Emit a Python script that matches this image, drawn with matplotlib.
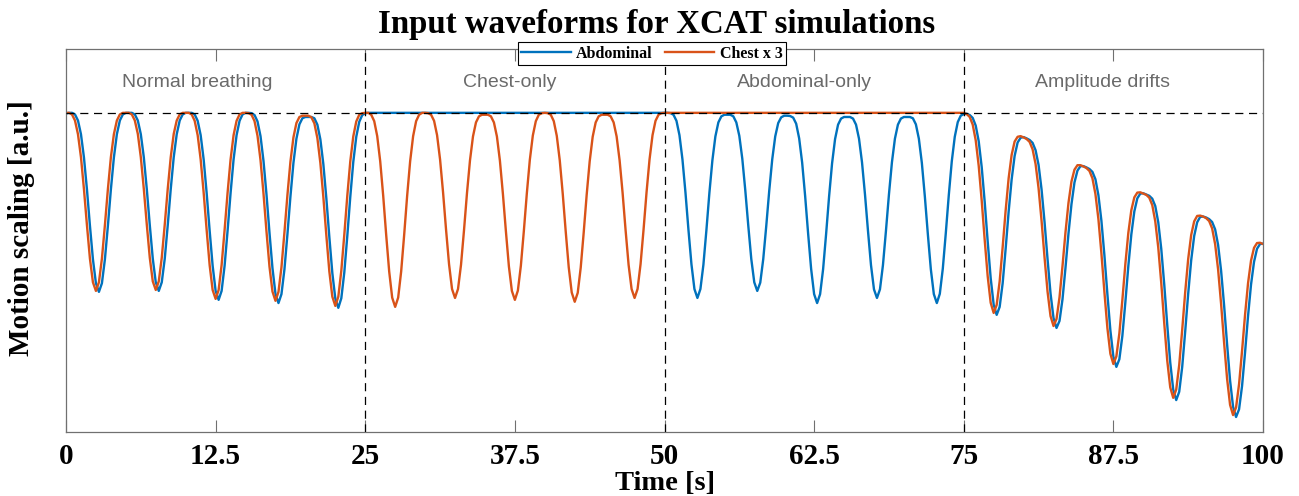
import numpy as np
import matplotlib.pyplot as plt

# temps d'echantillonnage [s]
t = np.arange(0, 100.25, 0.25)

# Abdominal (bleu) - valeurs lues sur la figure, pas de 0.25 s
abdominal = [
    0.998, 1.000, 1.000, 0.995, 0.976, 0.933, 0.860, 0.760, 0.646, 0.541, 0.466, 0.439, 0.466, 0.541, 0.646, 0.760, 0.860, 0.933, 0.976, 0.995,
    1.000, 1.000, 1.000, 0.995, 0.976, 0.933, 0.861, 0.761, 0.648, 0.543, 0.469, 0.442, 0.469, 0.543, 0.648, 0.761, 0.861, 0.933, 0.976, 0.995,
    1.000, 1.000, 1.000, 0.995, 0.975, 0.930, 0.854, 0.749, 0.631, 0.521, 0.442, 0.414, 0.442, 0.521, 0.631, 0.749, 0.854, 0.930, 0.975, 0.995,
    1.000, 1.000, 0.999, 0.993, 0.973, 0.927, 0.849, 0.744, 0.624, 0.513, 0.433, 0.404, 0.432, 0.510, 0.620, 0.738, 0.843, 0.919, 0.964, 0.983,
    0.987, 0.987, 0.987, 0.983, 0.963, 0.917, 0.839, 0.732, 0.611, 0.498, 0.418, 0.389, 0.419, 0.500, 0.614, 0.737, 0.846, 0.925, 0.972, 0.993,
    0.999, 1.000, 1.000, 1.000, 1.000, 1.000, 1.000, 1.000, 1.000, 1.000, 1.000, 1.000, 1.000, 1.000, 1.000, 1.000, 1.000, 1.000, 1.000, 1.000,
    1.000, 1.000, 1.000, 1.000, 1.000, 1.000, 1.000, 1.000, 1.000, 1.000, 1.000, 1.000, 1.000, 1.000, 1.000, 1.000, 1.000, 1.000, 1.000, 1.000,
    1.000, 1.000, 1.000, 1.000, 1.000, 1.000, 1.000, 1.000, 1.000, 1.000, 1.000, 1.000, 1.000, 1.000, 1.000, 1.000, 1.000, 1.000, 1.000, 1.000,
    1.000, 1.000, 1.000, 1.000, 1.000, 1.000, 1.000, 1.000, 1.000, 1.000, 1.000, 1.000, 1.000, 1.000, 1.000, 1.000, 1.000, 1.000, 1.000, 1.000,
    1.000, 1.000, 1.000, 1.000, 1.000, 1.000, 1.000, 1.000, 1.000, 1.000, 1.000, 1.000, 1.000, 1.000, 1.000, 1.000, 1.000, 1.000, 1.000, 1.000,
    1.000, 1.000, 0.999, 0.994, 0.975, 0.930, 0.854, 0.751, 0.634, 0.526, 0.448, 0.420, 0.448, 0.524, 0.632, 0.749, 0.851, 0.926, 0.970, 0.989,
    0.994, 0.994, 0.994, 0.989, 0.970, 0.928, 0.856, 0.757, 0.646, 0.542, 0.469, 0.442, 0.468, 0.542, 0.645, 0.756, 0.854, 0.926, 0.968, 0.986,
    0.991, 0.991, 0.990, 0.985, 0.966, 0.920, 0.844, 0.739, 0.621, 0.511, 0.432, 0.404, 0.432, 0.510, 0.620, 0.738, 0.842, 0.918, 0.963, 0.982,
    0.987, 0.987, 0.987, 0.982, 0.963, 0.919, 0.845, 0.744, 0.630, 0.523, 0.447, 0.420, 0.447, 0.523, 0.630, 0.744, 0.845, 0.919, 0.963, 0.982,
    0.987, 0.987, 0.987, 0.983, 0.964, 0.919, 0.843, 0.738, 0.620, 0.510, 0.432, 0.404, 0.433, 0.512, 0.623, 0.742, 0.848, 0.925, 0.971, 0.991,
    0.996, 0.997, 0.993, 0.984, 0.960, 0.911, 0.830, 0.721, 0.597, 0.482, 0.399, 0.367, 0.392, 0.466, 0.574, 0.690, 0.791, 0.865, 0.907, 0.922,
    0.924, 0.920, 0.915, 0.906, 0.883, 0.837, 0.760, 0.658, 0.542, 0.434, 0.357, 0.326, 0.348, 0.416, 0.515, 0.622, 0.714, 0.782, 0.819, 0.833,
    0.833, 0.829, 0.824, 0.815, 0.792, 0.742, 0.662, 0.554, 0.432, 0.318, 0.236, 0.204, 0.228, 0.301, 0.406, 0.520, 0.619, 0.691, 0.732, 0.747,
    0.748, 0.744, 0.740, 0.731, 0.708, 0.657, 0.574, 0.462, 0.336, 0.218, 0.133, 0.100, 0.126, 0.204, 0.315, 0.433, 0.538, 0.614, 0.657, 0.674,
    0.675, 0.672, 0.667, 0.658, 0.635, 0.586, 0.505, 0.397, 0.275, 0.161, 0.079, 0.047, 0.071, 0.144, 0.249, 0.363, 0.462, 0.533, 0.574, 0.589,
    0.590]

# Thorax x 3 (orange)
chest3 = [
    1.000, 1.000, 0.995, 0.976, 0.933, 0.861, 0.761, 0.648, 0.543, 0.469, 0.442, 0.469, 0.543, 0.648, 0.761, 0.861, 0.933, 0.976, 0.995, 1.000,
    1.000, 1.000, 0.995, 0.976, 0.934, 0.861, 0.762, 0.650, 0.546, 0.472, 0.445, 0.472, 0.546, 0.650, 0.762, 0.861, 0.934, 0.976, 0.995, 1.000,
    1.000, 1.000, 0.995, 0.975, 0.930, 0.854, 0.750, 0.633, 0.523, 0.445, 0.417, 0.445, 0.523, 0.633, 0.750, 0.854, 0.930, 0.975, 0.995, 1.000,
    1.000, 0.999, 0.994, 0.974, 0.928, 0.852, 0.747, 0.628, 0.518, 0.440, 0.411, 0.439, 0.516, 0.626, 0.743, 0.847, 0.923, 0.968, 0.987, 0.991,
    0.991, 0.991, 0.986, 0.967, 0.921, 0.843, 0.736, 0.616, 0.503, 0.424, 0.395, 0.424, 0.505, 0.618, 0.740, 0.848, 0.926, 0.973, 0.994, 0.999,
    1.000, 1.000, 0.994, 0.974, 0.927, 0.848, 0.740, 0.617, 0.503, 0.421, 0.392, 0.421, 0.503, 0.617, 0.740, 0.848, 0.927, 0.974, 0.994, 1.000,
    1.000, 0.999, 0.994, 0.975, 0.930, 0.854, 0.751, 0.634, 0.526, 0.448, 0.420, 0.448, 0.524, 0.632, 0.749, 0.851, 0.926, 0.970, 0.989, 0.994,
    0.994, 0.994, 0.989, 0.970, 0.926, 0.850, 0.746, 0.629, 0.519, 0.442, 0.414, 0.443, 0.521, 0.630, 0.748, 0.853, 0.929, 0.974, 0.994, 0.999,
    1.000, 0.999, 0.994, 0.974, 0.928, 0.851, 0.746, 0.627, 0.516, 0.437, 0.408, 0.436, 0.515, 0.625, 0.744, 0.848, 0.925, 0.970, 0.989, 0.994,
    0.994, 0.994, 0.989, 0.970, 0.926, 0.851, 0.749, 0.632, 0.524, 0.448, 0.420, 0.448, 0.526, 0.634, 0.751, 0.854, 0.930, 0.975, 0.994, 0.999,
    1.000, 1.000, 1.000, 1.000, 1.000, 1.000, 1.000, 1.000, 1.000, 1.000, 1.000, 1.000, 1.000, 1.000, 1.000, 1.000, 1.000, 1.000, 1.000, 1.000,
    1.000, 1.000, 1.000, 1.000, 1.000, 1.000, 1.000, 1.000, 1.000, 1.000, 1.000, 1.000, 1.000, 1.000, 1.000, 1.000, 1.000, 1.000, 1.000, 1.000,
    1.000, 1.000, 1.000, 1.000, 1.000, 1.000, 1.000, 1.000, 1.000, 1.000, 1.000, 1.000, 1.000, 1.000, 1.000, 1.000, 1.000, 1.000, 1.000, 1.000,
    1.000, 1.000, 1.000, 1.000, 1.000, 1.000, 1.000, 1.000, 1.000, 1.000, 1.000, 1.000, 1.000, 1.000, 1.000, 1.000, 1.000, 1.000, 1.000, 1.000,
    1.000, 1.000, 1.000, 1.000, 1.000, 1.000, 1.000, 1.000, 1.000, 1.000, 1.000, 1.000, 1.000, 1.000, 1.000, 1.000, 1.000, 1.000, 1.000, 1.000,
    1.000, 0.996, 0.987, 0.963, 0.914, 0.834, 0.725, 0.602, 0.488, 0.405, 0.373, 0.398, 0.472, 0.579, 0.694, 0.795, 0.868, 0.910, 0.925, 0.927,
    0.923, 0.918, 0.909, 0.886, 0.840, 0.764, 0.662, 0.547, 0.440, 0.363, 0.332, 0.354, 0.422, 0.520, 0.626, 0.718, 0.785, 0.822, 0.836, 0.836,
    0.832, 0.827, 0.818, 0.795, 0.746, 0.667, 0.560, 0.439, 0.326, 0.245, 0.213, 0.237, 0.309, 0.413, 0.526, 0.624, 0.695, 0.735, 0.750, 0.751,
    0.747, 0.743, 0.734, 0.711, 0.660, 0.578, 0.467, 0.341, 0.224, 0.140, 0.107, 0.133, 0.210, 0.320, 0.438, 0.542, 0.617, 0.660, 0.677, 0.678,
    0.675, 0.670, 0.661, 0.638, 0.589, 0.509, 0.401, 0.280, 0.167, 0.085, 0.053, 0.077, 0.150, 0.254, 0.367, 0.466, 0.537, 0.577, 0.592, 0.593,
    0.589]

xticks = [0, 12.5, 25, 37.5, 50, 62.5, 75, 87.5, 100]
xtick_labels = ['0', '12.5', '25', '37.5', '50', '62.5', '75', '87.5', '100']
phase_names = ['Normal breathing', 'Chest-only', 'Abdominal-only', 'Amplitude drifts']
phase_pos = [11.0, 37.1, 61.7, 86.6]
phase_limits = [25, 50, 75]
ref_level = 1.0

serif = 'Liberation Serif'
gris = '#707070'

fig = plt.figure(figsize=(12.99, 4.96), dpi=100)
ax = fig.add_axes([66/1299, 64/496, 1197/1299, 383/496])

l1, = ax.plot(t, abdominal, color='#0072BD', lw=1.7, label='Abdominal')
l2, = ax.plot(t, chest3, color='#D95319', lw=1.7, label='Chest x 3')

# lignes de reference
tirets = (0, (6.5, 4.5))
ax.axhline(ref_level, color='k', lw=0.9, ls=tirets, zorder=5)
for xl in phase_limits:
    ax.axvline(xl, color='k', lw=0.9, ls=tirets, zorder=5)

for nom, xp in zip(phase_names, phase_pos):
    ax.text(xp, 1.094, nom, ha='center', va='center', fontsize=14,
            family='Liberation Sans', color='#6a6a6a')

ax.set_xlim(0, 100)
ax.set_ylim(0, 1.2)
ax.set_xticks(xticks)
ax.set_xticklabels(xtick_labels, fontsize=21, fontweight='bold', family=serif)
ax.set_yticks([])
ax.tick_params(axis='x', direction='in', top=True, length=8.6, width=0.8,
               color=gris, pad=8)
for sp in ax.spines.values():
    sp.set_color(gris)
    sp.set_linewidth(0.9)

fig.text(656.5/1299, 1 - 25/496, 'Input waveforms for XCAT simulations',
         ha='center', va='center', fontsize=23.7, fontweight='bold', family=serif)
fig.text(22/1299, 1 - 228/496, 'Motion scaling [a.u.]', rotation=90,
         ha='center', va='center', fontsize=21, fontweight='bold', family=serif)
fig.text(665/1299, 1 - 484/496, 'Time [s]', ha='center', va='center',
         fontsize=20.5, fontweight='bold', family=serif)

leg = fig.legend(handles=[l1, l2], loc='center', ncol=2,
                 bbox_to_anchor=(652/1299, 1 - 53.5/496),
                 prop={'family': serif, 'weight': 'bold', 'size': 11.5},
                 handlelength=3.1, handletextpad=0.35, columnspacing=0.75,
                 borderpad=0.2, borderaxespad=0, fancybox=False,
                 framealpha=1, edgecolor='k')
leg.get_frame().set_linewidth(0.8)

fig.savefig('out.png', dpi=100)
